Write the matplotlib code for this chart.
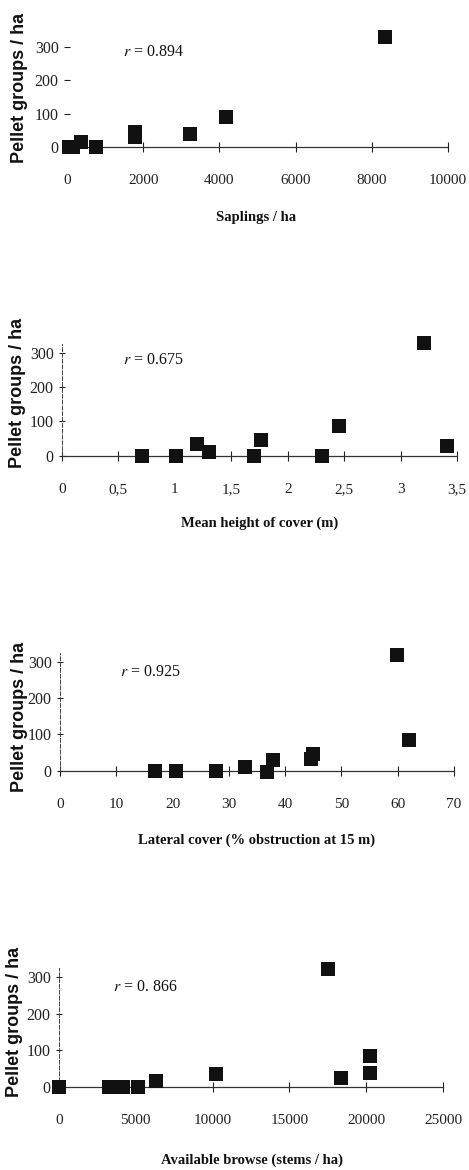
import matplotlib
matplotlib.use("Agg")
import matplotlib.pyplot as plt

plt.rcParams['font.family'] = ['Liberation Serif', 'DejaVu Serif']
plt.rcParams['mathtext.fontset'] = 'stix'

# ---------------- data ----------------
sap_x = [50, 150, 370, 760, 1790, 1790, 3230, 4170, 8350]
sap_y = [0, 0, 15, 0, 45, 30, 39, 90, 329]

height_x = [0.71, 1.01, 1.20, 1.30, 1.70, 1.76, 2.30, 2.45, 3.21, 3.41]
height_y = [0, 0, 33, 12, -1, 45, 0, 88, 328, 29]

lateral_x = [16.9, 20.6, 27.8, 32.9, 36.7, 37.9, 44.6, 44.9, 59.9, 62.0]
lateral_y = [0, 0, -2, 11, -4, 30, 33, 46, 320, 85]

browse_x = [0, 3275, 4190, 5170, 6290, 10200, 17490, 18380, 20250, 20250]
browse_y = [0, 0, 0, 0, 15, 35, 321, 25, 84, 37]

y_ticks = [0, 100, 200, 300]
sap_ticks = [0, 2000, 4000, 6000, 8000, 10000]
sap_ticklabels = ['0', '2000', '4000', '6000', '8000', '10000']
height_ticks = [0, 0.5, 1, 1.5, 2, 2.5, 3, 3.5]
height_ticklabels = ['0', '0,5', '1', '1,5', '2', '2,5', '3', '3,5']
lateral_ticks = [0, 10, 20, 30, 40, 50, 60, 70]
lateral_ticklabels = ['0', '10', '20', '30', '40', '50', '60', '70']
browse_ticks = [0, 5000, 10000, 15000, 20000, 25000]
browse_ticklabels = ['0', '5000', '10000', '15000', '20000', '25000']

r_texts = ['0.894', '0.675', '0.925', '0. 866']
x_labels = ['Saplings / ha', 'Mean height of cover (m)',
            'Lateral cover (% obstruction at 15 m)', 'Available browse (stems / ha)']
y_label = 'Pellet groups / ha'

# ---------------- layout ----------------
W, H = 469, 1170
fig = plt.figure(figsize=(W / 100, H / 100), dpi=100)

YMIN, YMAX = -20, 360

# (px of x=0, px of x=max, px of y=0, px of y=300)
calib = [
    (67, 448, 147.0, 47.0),
    (62, 457, 455.7, 353.0),
    (60, 454, 770.7, 662.0),
    (59, 443, 1086.7, 977.0),
]
xmaxes = [10000, 3.5, 70, 25000]
r_pos = [(1470, 285), (0.54, 280), (10.7, 272), (3500, 273)]
xlabel_pos = [(256, 217), (260, 523), (257, 840), (252, 1160)]
ylabel_pos = [(19, 88), (18, 393), (20, 717), (15, 1022)]

datasets = [(sap_x, sap_y, sap_ticks, sap_ticklabels),
            (height_x, height_y, height_ticks, height_ticklabels),
            (lateral_x, lateral_y, lateral_ticks, lateral_ticklabels),
            (browse_x, browse_y, browse_ticks, browse_ticklabels)]

for i, ((xs, ys, xt, xtl), (px0, px1, py0, py300)) in enumerate(zip(datasets, calib)):
    per = (py0 - py300) / 300.0
    top = py0 - YMAX * per
    bot = py0 - YMIN * per
    rect = [px0 / W, 1 - bot / H, (px1 - px0) / W, (bot - top) / H]
    ax = fig.add_axes(rect)
    ax.set_xlim(0, xmaxes[i])
    ax.set_ylim(YMIN, YMAX)
    ax.patch.set_alpha(0)

    ax.scatter(xs, ys, marker='s', s=100, color='#111111', clip_on=False, zorder=3,
               linewidths=0)

    for s in ['top', 'right']:
        ax.spines[s].set_visible(False)
    ax.spines['bottom'].set_position(('data', 0))
    ax.spines['bottom'].set_bounds(0, xmaxes[i])
    ax.spines['bottom'].set_color('#333333')
    ax.spines['bottom'].set_linewidth(0.9)
    if i == 0:
        ax.spines['left'].set_visible(False)
    else:
        ax.spines['left'].set_bounds(0, 325)
        ax.spines['left'].set_linestyle((0, (4, 2)))
        ax.spines['left'].set_linewidth(0.7)
        ax.spines['left'].set_color('#444444')

    ax.set_xticks(xt)
    ax.set_xticklabels(xtl)
    ax.set_yticks(y_ticks)
    ax.set_yticklabels([str(v) for v in y_ticks])
    ax.tick_params(axis='x', direction='inout', length=7, width=0.8, pad=16,
                   labelsize=11, colors='#222222')
    ax.tick_params(axis='y', direction='inout', length=5, width=0.8, pad=3.5,
                   labelsize=11.5, colors='#222222')

    ax.text(r_pos[i][0], r_pos[i][1], r'$r$ = ' + r_texts[i], fontsize=11.5,
            ha='left', va='center', color='#111111')

    fig.text(xlabel_pos[i][0] / W, 1 - xlabel_pos[i][1] / H, x_labels[i],
             ha='center', va='center', fontsize=10.5, fontweight='bold',
             color='#111111')
    fig.text(ylabel_pos[i][0] / W, 1 - ylabel_pos[i][1] / H, y_label,
             ha='center', va='center', rotation=90, fontsize=13,
             fontweight='bold', family=['Liberation Sans', 'DejaVu Sans'],
             color='#111111')

fig.savefig('out.png', dpi=100)
